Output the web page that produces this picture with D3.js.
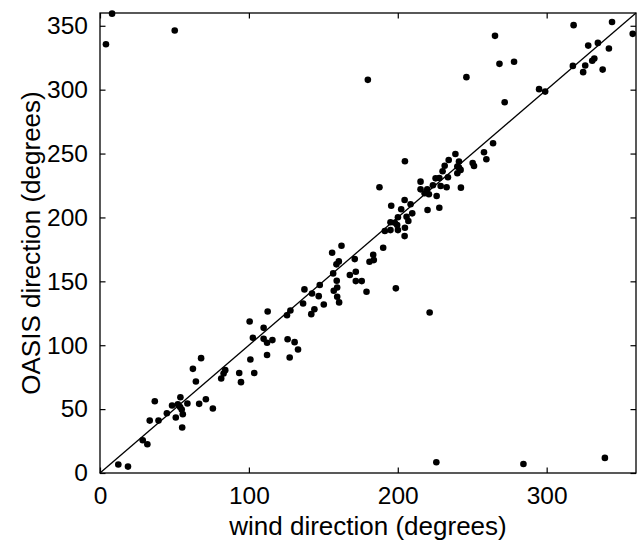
<!DOCTYPE html>
<html>
<head>
<meta charset="utf-8">
<script src="https://cdn.jsdelivr.net/npm/d3@7"></script>
<style>
  html, body { margin: 0; padding: 0; background: #fff; }
  svg { display: block; }
  text { font-family: "Liberation Sans", Arial, Helvetica, sans-serif; fill: #000; }
</style>
</head>
<body>
<svg id="chart" width="641" height="540"></svg>
<script>
// ---- data (wind direction vs OASIS direction, degrees) ----
const windDir = [
  4.0, 8.1, 50.2, 179.9, 246.1, 265.3, 268.3, 278.1, 271.8, 294.9, 299.0, 318.1, 317.6, 327.9, 334.4, 325.9, 324.5, 330.6, 332.0, 337.6, 341.8, 343.9, 357.8,
  204.8, 238.7, 234.2, 241.1, 231.5, 241.1, 257.9, 259.5, 264.0, 250.3, 251.2,
  187.7, 215.3, 215.3, 219.8, 218.0, 220.9, 226.1, 220.0, 227.9, 223.6, 225.4, 227.9, 228.8, 232.8, 233.7, 230.1, 240.0, 242.2, 240.0, 242.4,
  195.6, 204.6, 208.6, 202.3, 209.7, 205.9, 207.1, 200.1, 195.1, 198.0, 199.6, 195.1, 200.1, 204.8, 204.6, 191.3, 190.2, 183.5, 183.9, 181.0,
  171.1, 162.2, 155.9, 160.4, 158.8, 156.6, 167.8, 171.8, 171.8, 175.8, 159.0, 179.0, 198.7, 147.6, 137.3, 159.3, 157.0, 142.4, 146.9, 159.3,
  160.6, 150.3, 136.4, 127.9, 125.6, 144.0, 141.9, 221.4,
  112.6, 100.5, 109.9, 102.7, 109.9, 112.2, 115.8, 126.0, 130.7, 133.0, 127.4, 112.2, 101.0, 103.6, 93.5, 84.1, 83.0, 81.4, 94.7,
  225.9, 284.4, 339.1,
  12.3, 18.8, 28.7, 31.8, 33.4, 39.3, 36.8, 44.9, 48.4, 50.9, 52.3, 54.0, 53.8, 54.9, 55.6, 58.7, 55.2, 66.6, 71.1, 75.8, 64.4, 62.4, 67.9
];
const oasisDir = [
  335.6, 359.5, 346.3, 307.7, 309.8, 342.1, 320.2, 321.8, 290.2, 300.4, 298.5, 350.5, 318.6, 334.5, 336.6, 318.9, 313.7, 322.6, 324.3, 315.7, 332.2, 352.9, 343.7,
  244.0, 249.7, 245.0, 243.7, 240.5, 239.0, 251.0, 245.5, 258.1, 242.6, 240.3,
  223.6, 228.0, 222.0, 222.0, 218.9, 218.1, 216.8, 205.8, 207.6, 225.2, 230.6, 230.9, 224.6, 223.6, 231.4, 236.1, 234.6, 237.2, 239.8, 223.3,
  209.2, 213.7, 210.3, 206.4, 203.2, 200.6, 197.2, 200.1, 196.2, 195.9, 194.1, 190.1, 190.1, 191.9, 185.4, 189.4, 176.3, 170.8, 166.6, 165.3,
  167.4, 177.8, 172.4, 165.6, 163.3, 156.2, 154.9, 157.5, 150.2, 150.2, 150.4, 141.8, 144.5, 147.1, 143.7, 145.2, 142.6, 140.5, 138.4, 137.9,
  133.5, 131.9, 132.7, 127.2, 123.5, 128.2, 124.3, 125.6,
  126.4, 118.6, 113.6, 105.8, 105.0, 101.9, 104.0, 104.7, 102.4, 96.7, 90.4, 92.4, 88.8, 78.3, 78.3, 80.5, 77.9, 73.9, 71.1,
  8.4, 7.1, 11.8,
  6.6, 5.0, 25.6, 22.5, 41.0, 41.0, 56.2, 46.8, 52.8, 43.4, 53.8, 59.3, 51.7, 49.7, 46.0, 54.4, 35.6, 54.1, 57.7, 50.5, 71.6, 81.5, 89.9
];
const xTicks = [0, 100, 200, 300];
const yTicks = [0, 50, 100, 150, 200, 250, 300, 350];
const refLine = [0, 360];
const xLabel = "wind direction (degrees)";
const yLabel = "OASIS direction (degrees)";

// ---- layout ----
const svg = d3.select("#chart");
const L = 100, R = 636, T = 13, B = 473;
const x = d3.scaleLinear().domain([0, 360]).range([L, R]);
const y = d3.scaleLinear().domain([0, 360]).range([B, T]);
const tickLen = 5.5;

// reference diagonal
svg.append("line")
  .attr("x1", x(refLine[0])).attr("y1", y(refLine[0]))
  .attr("x2", x(refLine[1])).attr("y2", y(refLine[1]))
  .attr("stroke", "#000").attr("stroke-width", 1.3);

// points
const pts = windDir.map((w, i) => [w, oasisDir[i]]);
svg.append("g").selectAll("circle").data(pts).join("circle")
  .attr("cx", d => x(d[0])).attr("cy", d => y(d[1]))
  .attr("r", 3.3).attr("fill", "#000");

// axes (ticks inward, mirrored on top/right)
const fs = 24.5;
const xAxis = svg.append("g").attr("transform", `translate(0,${B})`)
  .call(d3.axisBottom(x).tickValues(xTicks).tickSize(-tickLen).tickPadding(14).tickFormat(d3.format("d")));
const yAxis = svg.append("g").attr("transform", `translate(${L},0)`)
  .call(d3.axisLeft(y).tickValues(yTicks).tickSize(-tickLen).tickPadding(12).tickFormat(d3.format("d")));
const xTop = svg.append("g").attr("transform", `translate(0,${T})`)
  .call(d3.axisTop(x).tickValues(xTicks).tickSize(-tickLen).tickFormat(""));
const yRight = svg.append("g").attr("transform", `translate(${R},0)`)
  .call(d3.axisRight(y).tickValues(yTicks).tickSize(-tickLen).tickFormat(""));
[xAxis, yAxis, xTop, yRight].forEach(g => {
  g.select(".domain").remove();
  g.selectAll("line").attr("stroke", "#000").attr("stroke-width", 1.2);
  g.selectAll("text").attr("font-size", fs).attr("font-family", "Liberation Sans, Arial, sans-serif").attr("fill", "#000");
});

// frame
svg.append("rect").attr("x", L).attr("y", T).attr("width", R - L).attr("height", B - T)
  .attr("fill", "none").attr("stroke", "#000").attr("stroke-width", 1.3);

// axis labels
svg.append("text").attr("x", (L + R) / 2).attr("y", 535)
  .attr("text-anchor", "middle").attr("font-size", 26).text(xLabel);
svg.append("text").attr("transform", `translate(40,${(T + B) / 2}) rotate(-90)`)
  .attr("text-anchor", "middle").attr("font-size", 26).text(yLabel);
</script>
</body>
</html>
